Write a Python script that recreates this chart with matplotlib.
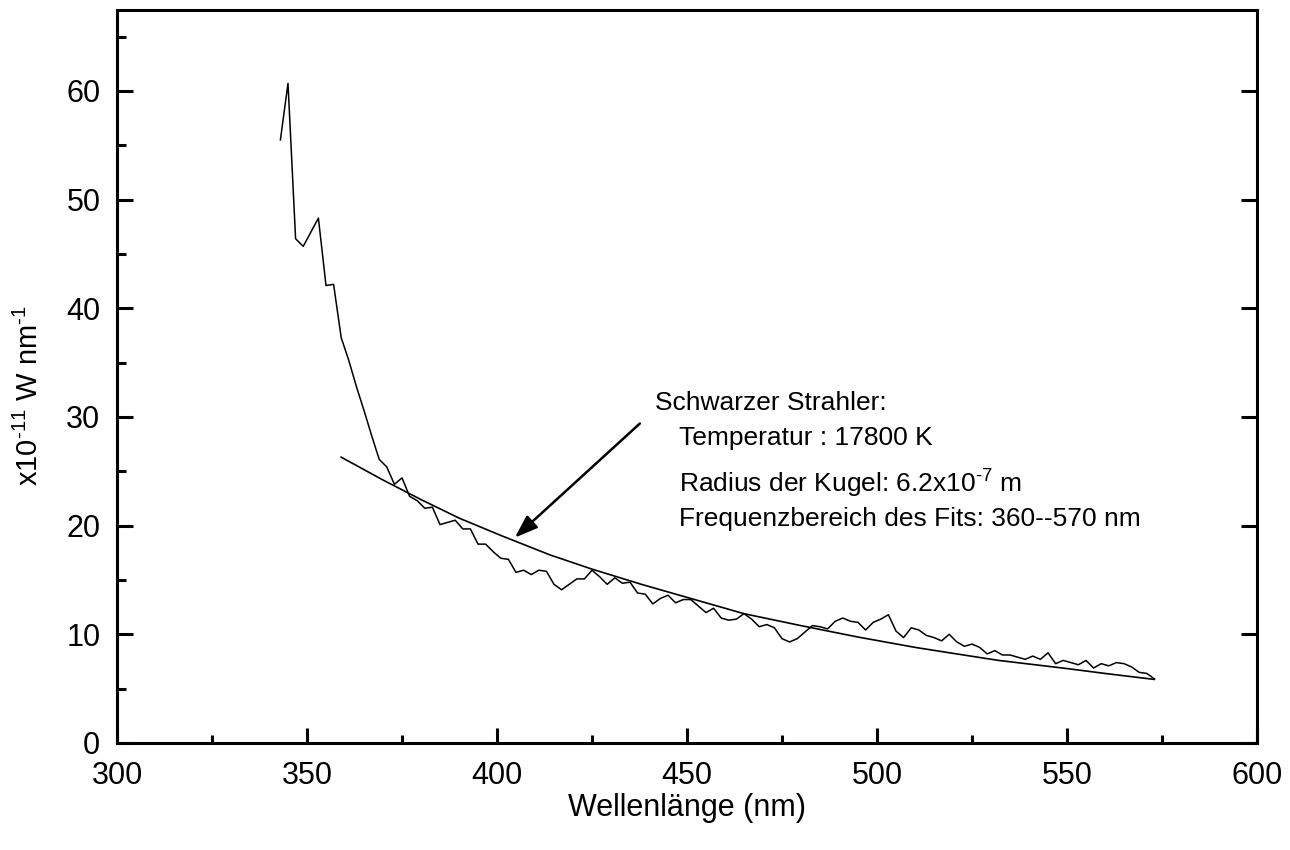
import numpy as np
import matplotlib
matplotlib.use("Agg")
import matplotlib.pyplot as plt
from matplotlib.ticker import MultipleLocator

plt.rcParams['font.family'] = ['Liberation Sans', 'DejaVu Sans']
plt.rcParams['mathtext.fontset'] = 'custom'
plt.rcParams['mathtext.rm'] = 'Liberation Sans'
plt.rcParams['mathtext.default'] = 'regular'

# measured spectrum (wavelength in nm, power in 1e-11 W/nm)
wavelength = np.arange(343, 575, 2)
power = [55.5, 60.7, 46.4, 45.7, 47.0, 48.3, 42.1, 42.2, 37.3, 35.2,
         32.8, 30.6, 28.3, 26.1, 25.4, 23.8, 24.4, 22.7, 22.3, 21.6,
         21.7, 20.1, 20.3, 20.5, 19.7, 19.7, 18.3, 18.3, 17.6, 17.0,
         16.9, 15.7, 15.9, 15.5, 15.9, 15.8, 14.6, 14.1, 14.6, 15.1,
         15.1, 15.9, 15.3, 14.6, 15.2, 14.7, 14.8, 13.8, 13.7, 12.8,
         13.3, 13.6, 12.9, 13.2, 13.2, 12.6, 12.0, 12.4, 11.5, 11.3,
         11.4, 11.9, 11.4, 10.7, 10.9, 10.6, 9.6, 9.3, 9.6, 10.2,
         10.8, 10.7, 10.5, 11.2, 11.5, 11.2, 11.1, 10.4, 11.1, 11.4,
         11.8, 10.3, 9.7, 10.6, 10.4, 9.9, 9.7, 9.4, 10.0, 9.3,
         8.9, 9.1, 8.8, 8.2, 8.5, 8.1, 8.1, 7.9, 7.7, 8.0,
         7.7, 8.3, 7.3, 7.6, 7.4, 7.2, 7.6, 6.9, 7.3, 7.1,
         7.4, 7.3, 7.0, 6.5, 6.4, 5.9]

# black body fit curve
fit_wavelength = [359, 370, 380, 390, 401, 414, 425, 438, 451, 465,
                  480, 495, 510, 520, 532, 550, 560, 573]
fit_power = [26.3, 24.2, 22.4, 20.7, 19.1, 17.3, 16.0, 14.6, 13.3, 11.9,
             10.8, 9.75, 8.8, 8.25, 7.6, 6.85, 6.4, 5.85]

x_ticks = [300, 350, 400, 450, 500, 550, 600]
y_ticks = [0, 10, 20, 30, 40, 50, 60]

W, H = 1290, 850
fig = plt.figure(figsize=(W / 100, H / 100), dpi=100)
ax = fig.add_axes([117 / W, 1 - 743 / H, (1257 - 117) / W, (743 - 10) / H])

ax.plot(wavelength, power, color='black', lw=1.1)
ax.plot(fit_wavelength, fit_power, color='black', lw=1.2)

ax.set_xlim(300, 600)
ax.set_ylim(0, 67.45)
ax.set_xticks(x_ticks)
ax.set_yticks(y_ticks)
ax.xaxis.set_minor_locator(MultipleLocator(25))
ax.yaxis.set_minor_locator(MultipleLocator(5))

for s in ax.spines.values():
    s.set_linewidth(2.2)

ax.tick_params(axis='both', which='major', direction='in', width=2.2,
               labelsize=22)
ax.tick_params(axis='x', which='major', length=11, pad=13, top=False)
ax.tick_params(axis='y', which='major', length=11.5, pad=12, right=True)
ax.tick_params(axis='x', which='minor', direction='in', length=6, width=2.2, top=False)
ax.tick_params(axis='y', which='minor', direction='in', length=6.5, width=2.2, right=False)

ax.set_xlabel('Wellenlänge (nm)', fontsize=22)
ax.xaxis.set_label_coords(0.5, -(793 - 743) / (743 - 10))
ax.set_ylabel(r'x10$^{\text{-}11}$ W nm$^{\text{-}1}$', fontsize=21)
ax.yaxis.set_label_coords(-(117 - 44) / (1257 - 117), (743 - 396) / (743 - 10))

ax.annotate('', xy=(404.7, 18.9), xytext=(437.6, 29.4),
            arrowprops=dict(arrowstyle='-|>,head_length=1.4,head_width=0.5',
                            color='black', lw=1.8, shrinkA=0, shrinkB=0))

fs = 19
ax.text(441.6, 30.65, 'Schwarzer Strahler:', fontsize=fs, va='baseline')
ax.text(447.9, 27.42, 'Temperatur : 17800 K', fontsize=fs, va='baseline')
ax.text(447.9, 23.0, r'Radius der Kugel: 6.2x10$^{\text{-}7}$ m', fontsize=fs, va='baseline')
ax.text(447.9, 20.0, 'Frequenzbereich des Fits: 360--570 nm', fontsize=fs, va='baseline')

fig.savefig('out.png', dpi=100)
